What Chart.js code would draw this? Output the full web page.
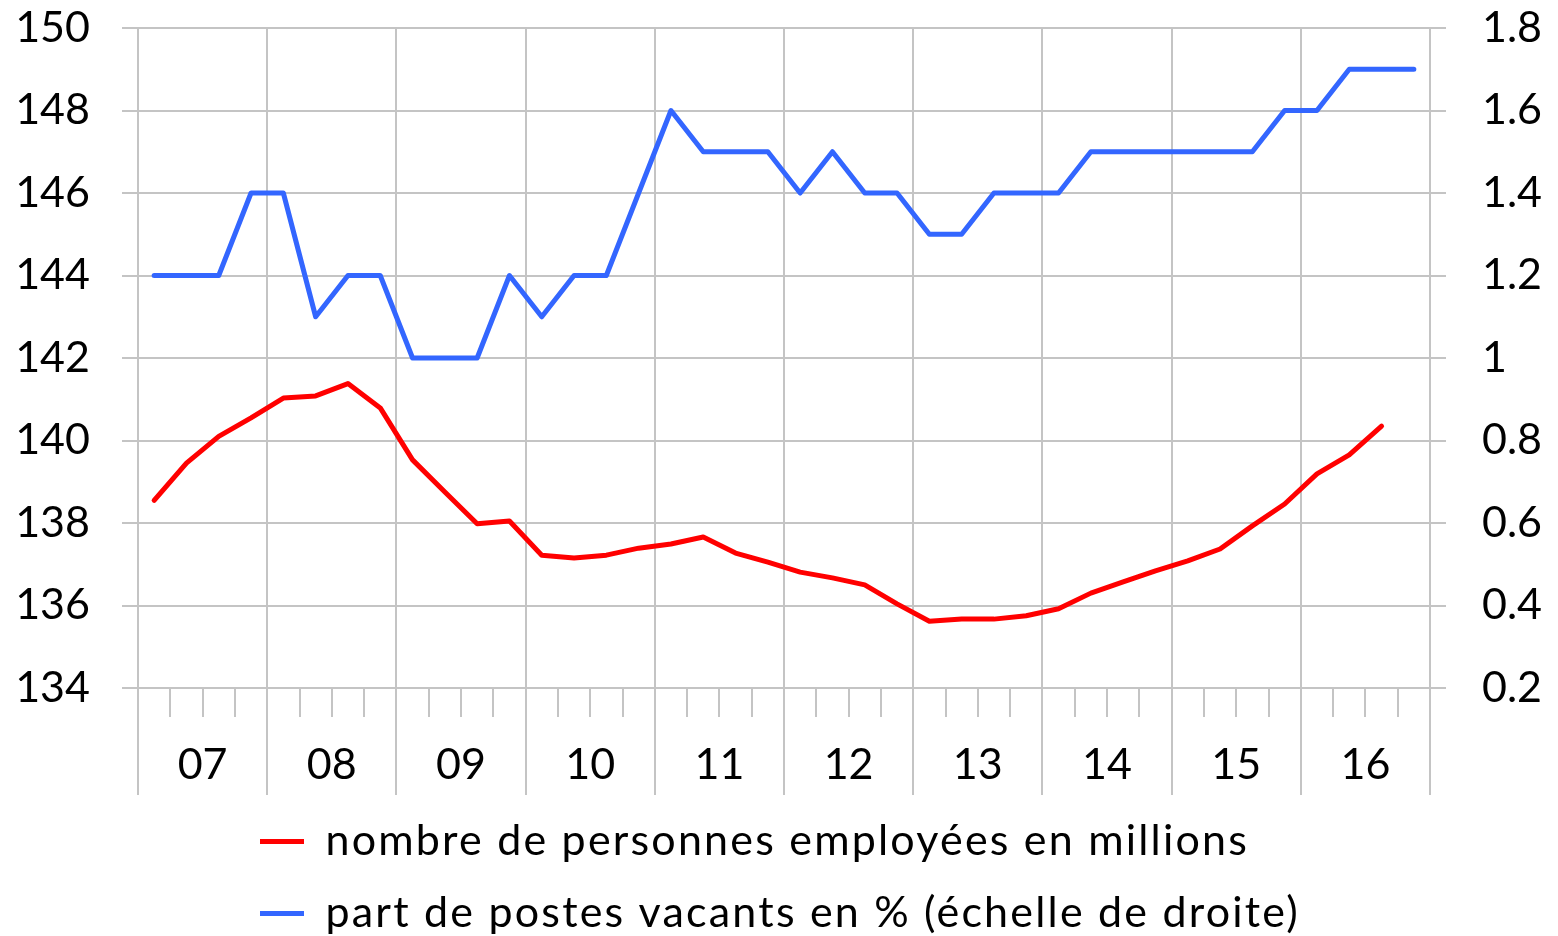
<!DOCTYPE html>
<html lang="fr">
<head>
<meta charset="UTF-8">
<title>Emploi et postes vacants</title>
<script src="https://cdn.jsdelivr.net/npm/chart.js"></script>
<style>
  html, body {
    margin: 0;
    padding: 0;
    background: #fff;
  }
  .chart-box {
    position: relative;
    width: 1558px;
    height: 936px;
  }
</style>
</head>
<body>
<div class="chart-box"><canvas id="chart"></canvas></div>

<script>
// annees (4 trimestres chacune)
var years = ['07', '08', '09', '10', '11', '12', '13', '14', '15', '16'];

// nombre de personnes employees en millions (axe gauche), 2007T1 - 2016T3
var employed = [
  138.55, 139.45, 140.1, 140.55, 141.03, 141.08, 141.38, 140.79,
  139.53, 138.75, 137.98, 138.05, 137.22, 137.15, 137.22, 137.39,
  137.49, 137.66, 137.27, 137.05, 136.81, 136.67, 136.5, 136.04,
  135.62, 135.67, 135.67, 135.75, 135.92, 136.3, 136.57, 136.84,
  137.08, 137.37, 137.93, 138.46, 139.19, 139.65, 140.35
];

// part de postes vacants en % (axe droit), 2007T1 - 2016T4
var vacancy = [
  1.2, 1.2, 1.2, 1.4, 1.4, 1.1, 1.2, 1.2,
  1.0, 1.0, 1.0, 1.2, 1.1, 1.2, 1.2, 1.4,
  1.6, 1.5, 1.5, 1.5, 1.4, 1.5, 1.4, 1.4,
  1.3, 1.3, 1.4, 1.4, 1.4, 1.5, 1.5, 1.5,
  1.5, 1.5, 1.5, 1.6, 1.6, 1.7, 1.7, 1.7
];

var employedLabel = 'nombre de personnes employées en millions';
var vacancyLabel = 'part de postes vacants en % (échelle de droite)';

var leftMin = 134, leftMax = 150, leftStep = 2;
var rightMin = 0.2, rightMax = 1.8, rightStep = 0.2;

var gridColor = '#c4c4c4';
var fontSize = 43;

// un point au milieu de chaque trimestre
function toPoints(values) {
  return values.map(function(v, i) {
    return { x: i + 0.5, y: v };
  });
}

// pas de marge auto autour des axes
function noPadding(s) {
  s.paddingTop = 0;
  s.paddingBottom = 0;
  s.paddingLeft = 0;
  s.paddingRight = 0;
}

// traits verticaux des annees sous l'axe
var yearLines = {
  id: 'yearLines',
  afterDraw: function(chart) {
    var xs = chart.scales.x;
    var area = chart.chartArea;
    var c = chart.ctx;
    c.save();
    c.strokeStyle = gridColor;
    c.lineWidth = 2;
    for (var k = 0; k <= years.length; k++) {
      var px = Math.round(xs.getPixelForValue(k * 4));
      c.beginPath();
      c.moveTo(px, area.bottom);
      c.lineTo(px, area.bottom + 107);
      c.stroke();
    }
    c.restore();
  }
};

// legende alignee a gauche, texte un peu espace
var legendPlace = {
  id: 'legendPlace',
  afterLayout: function(chart) {
    var lg = chart.legend;
    var shift = 260 - lg.options.labels.padding - lg.left;
    lg.left += shift;
    lg.right += shift;
    lg.top += 9;
    lg.bottom += 9;
    if (!lg._spaced) {
      var draw = lg.draw;
      lg.draw = function() {
        var c = this.ctx;
        var old = c.letterSpacing;
        c.letterSpacing = '2.2px';
        draw.apply(this, arguments);
        c.letterSpacing = old;
      };
      lg._spaced = true;
    }
  }
};

Chart.defaults.font.family = 'Lato';
Chart.defaults.color = '#000';

var ctx = document.getElementById('chart').getContext('2d');
new Chart(ctx, {
  type: 'line',
  data: {
    datasets: [{
      label: employedLabel,
      data: toPoints(employed),
      yAxisID: 'y',
      borderColor: '#ff0000',
      backgroundColor: '#ff0000',
      borderWidth: 5,
      borderCapStyle: 'round',
      borderJoinStyle: 'round',
      pointRadius: 0,
      pointStyle: 'line',
      tension: 0
    }, {
      label: vacancyLabel,
      data: toPoints(vacancy),
      yAxisID: 'y1',
      borderColor: '#3366ff',
      backgroundColor: '#3366ff',
      borderWidth: 5,
      borderCapStyle: 'round',
      borderJoinStyle: 'round',
      pointRadius: 0,
      pointStyle: 'line',
      tension: 0
    }]
  },
  options: {
    responsive: true,
    maintainAspectRatio: false,
    animation: false,
    layout: {
      padding: { top: 28, left: 0, right: 0, bottom: 0 }
    },
    plugins: {
      tooltip: { enabled: false },
      legend: {
        position: 'bottom',
        align: 'start',
        labels: {
          usePointStyle: true,
          pointStyleWidth: 44,
          padding: 29,
          color: '#000',
          font: { size: fontSize }
        }
      }
    },
    scales: {
      x: {
        type: 'linear',
        position: 'bottom',
        min: 0,
        max: years.length * 4,
        afterFit: function(s) { s.height = 94; noPadding(s); },
        border: { display: false },
        grid: {
          color: function(c) {
            return c.tick && c.tick.value % 4 === 0 ? gridColor : 'transparent';
          },
          tickColor: gridColor,
          lineWidth: 2,
          tickLength: 29
        },
        ticks: {
          stepSize: 1,
          autoSkip: false,
          maxRotation: 0,
          padding: 22,
          font: { size: fontSize },
          callback: function(v) {
            return v % 4 === 2 ? years[(v - 2) / 4] : '';
          }
        }
      },
      y: {
        position: 'left',
        min: leftMin,
        max: leftMax,
        afterFit: function(s) { s.width = 138; noPadding(s); },
        border: { display: false },
        grid: { color: gridColor, lineWidth: 2, tickLength: 16 },
        ticks: {
          stepSize: leftStep,
          padding: 32,
          font: { size: fontSize }
        }
      },
      y1: {
        position: 'right',
        min: rightMin,
        max: rightMax,
        afterFit: function(s) { s.width = 128; noPadding(s); },
        border: { display: false },
        grid: { drawOnChartArea: false, color: gridColor, lineWidth: 2, tickLength: 16 },
        ticks: {
          stepSize: rightStep,
          padding: 36,
          font: { size: fontSize },
          callback: function(v) {
            return String(Math.round(v * 10) / 10);
          }
        }
      }
    }
  },
  plugins: [yearLines, legendPlace]
});
</script>
</body>
</html>
